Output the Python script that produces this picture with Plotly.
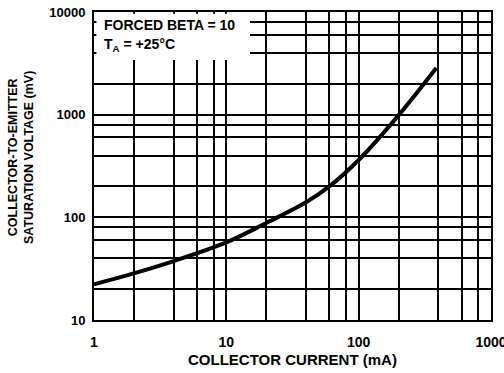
import plotly.graph_objects as go

# Data
current_ma = [1, 2, 4, 10, 20, 40, 60, 100, 200, 386]
vce_sat_mv = [22.3, 28.5, 37.5, 57, 88, 140, 200, 362, 985, 2850]

x_grid = [1, 2, 4, 6, 8, 10, 20, 40, 60, 80, 100, 200, 400, 600, 800, 1000]
x_tick_text = ["1", "", "", "", "", "10", "", "", "", "", "100", "", "", "", "", "1000"]
y_grid = [10, 20, 40, 60, 80, 100, 200, 400, 600, 800, 1000, 2000, 4000, 6000, 8000, 10000]
y_tick_text = ["10", "", "", "", "", "100", "", "", "", "", "1000", "", "", "", "", "10000"]

FONT = "Liberation Sans"

fig = go.Figure()
fig.add_trace(go.Scatter(
    x=current_ma, y=vce_sat_mv, mode="lines",
    line=dict(color="black", width=4, shape="spline", smoothing=1.0),
    showlegend=False, hoverinfo="skip",
))

axis_common = dict(
    type="log", showgrid=True, gridcolor="black", gridwidth=2,
    showline=True, linecolor="black", linewidth=2, mirror=True,
    ticks="", zeroline=False, automargin=False, ticklabeloverflow="allow",
)

fig.update_layout(
    width=504, height=373, autosize=False,
    margin=dict(l=94, r=13, t=12, b=53),
    paper_bgcolor="white", plot_bgcolor="white",
    font=dict(family=FONT, color="black"),
    xaxis=dict(range=[0, 3], tickvals=x_grid, ticktext=x_tick_text,
               tickfont=dict(family=FONT, size=14, weight="bold", color="black"),
               ticklabelstandoff=8, **axis_common),
    yaxis=dict(range=[1, 4], tickvals=y_grid, ticktext=y_tick_text,
               tickfont=dict(family=FONT, size=13, weight="bold", color="black"),
               ticklabelstandoff=4, **axis_common),
)

# white box behind the condition text
fig.add_shape(type="rect", xref="x domain", yref="y domain",
              x0=0.006, x1=0.393, y0=0.844, y1=0.994,
              fillcolor="white", line=dict(width=0), layer="above")

fig.add_annotation(xref="x domain", yref="y domain", x=0.02, y=0.958,
                   xanchor="left", yanchor="middle", showarrow=False,
                   text="FORCED BETA = 10",
                   font=dict(family=FONT, size=14, weight="bold", color="black"))
fig.add_annotation(xref="x domain", yref="y domain", x=0.02, y=0.893,
                   xanchor="left", yanchor="middle", showarrow=False,
                   text="T<sub>A</sub> = +25°C",
                   font=dict(family=FONT, size=14, weight="bold", color="black"))

# axis titles
fig.add_annotation(xref="paper", yref="paper", x=(292 - 94) / 397, y=(320 - 359) / 308,
                   xanchor="center", yanchor="middle", showarrow=False,
                   text="COLLECTOR CURRENT (mA)",
                   font=dict(family=FONT, size=15, weight="bold", color="black"))
fig.add_annotation(xref="paper", yref="paper", x=(21 - 94) / 397, y=(320 - 158) / 308,
                   xanchor="center", yanchor="middle", showarrow=False, textangle=-90,
                   text="COLLECTOR-TO-EMITTER<br>SATURATION VOLTAGE (mV)",
                   font=dict(family=FONT, size=12.5, weight="bold", color="black"))

fig.write_html("out.html", config={"displayModeBar": False},
               post_script="document.body.style.margin='0';")
